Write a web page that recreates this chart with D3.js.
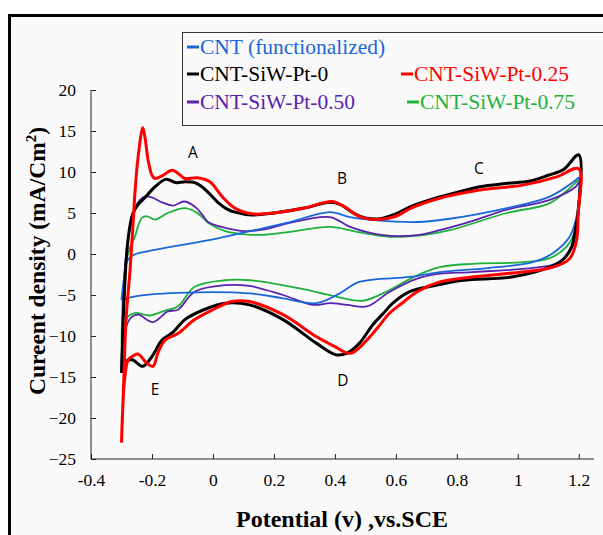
<!DOCTYPE html>
<html>
<head>
<meta charset="utf-8">
<script src="https://cdn.jsdelivr.net/npm/d3@7"></script>
<style>
  body { margin: 0; background: #fff; }
  svg { display: block; }
</style>
</head>
<body>
<script>
// tick values
var xTicks = [-0.4, -0.2, 0, 0.2, 0.4, 0.6, 0.8, 1, 1.2];
var yTicks = [-25, -20, -15, -10, -5, 0, 5, 10, 15, 20];

// series names
var names = ["CNT (functionalized)", "CNT-SiW-Pt-0", "CNT-SiW-Pt-0.25", "CNT-SiW-Pt-0.50", "CNT-SiW-Pt-0.75"];

// [potential V, current mA/cm2], anodic sweep then cathodic sweep
var blueFwd = [[-0.3,-5.6],[-0.292,-3],[-0.282,-0.9],[-0.265,-0.2],[-0.233,0.2],[-0.148,0.8],[0.016,1.9],[0.17,3.2],[0.252,3.9],[0.384,5.1],[0.45,4.5],[0.537,4.1],[0.67,3.9],[0.777,4.3],[0.964,5.6],[1.105,7.0],[1.19,9.0],[1.2,9.3]];
var blueRev = [[1.2,9.3],[1.195,5],[1.17,2.1],[1.115,0.1],[1.05,-1.0],[0.908,-1.7],[0.744,-2.2],[0.646,-2.8],[0.48,-3.4],[0.416,-4.8],[0.34,-6.0],[0.23,-5.4],[0.12,-4.8],[-0.092,-4.7],[-0.246,-5.1],[-0.3,-5.6]];

var blackFwd = [[-0.3,-14.5],[-0.292,-6],[-0.283,0],[-0.272,3.5],[-0.262,5],[-0.246,6.0],[-0.22,7.0],[-0.19,8.2],[-0.154,9.1],[-0.12,8.7],[-0.092,8.8],[-0.06,8.7],[-0.036,8.2],[-0.01,7.3],[0.016,6.3],[0.045,5.5],[0.072,5.1],[0.128,4.75],[0.2,5.0],[0.3,5.6],[0.384,6.3],[0.42,6.0],[0.46,5.0],[0.5,4.4],[0.548,4.3],[0.6,4.9],[0.65,5.8],[0.711,6.6],[0.8,7.5],[0.875,8.2],[0.96,8.6],[1.04,8.9],[1.1,9.6],[1.15,10.3],[1.2,12.1]];
var blackRev = [[1.2,12.1],[1.198,5],[1.187,2.6],[1.177,0.9],[1.148,-0.7],[1.105,-1.6],[0.98,-2.8],[0.82,-3.2],[0.72,-3.9],[0.645,-4.6],[0.59,-6],[0.56,-7.2],[0.525,-8.6],[0.48,-10.9],[0.44,-12.1],[0.405,-12.3],[0.34,-10.9],[0.23,-8.0],[0.12,-6.2],[0.04,-6.0],[-0.03,-6.8],[-0.092,-8.0],[-0.13,-9.5],[-0.167,-10.5],[-0.2,-12.5],[-0.23,-13.7],[-0.265,-12.9],[-0.29,-13.2],[-0.3,-14.5]];

var redFwd = [[-0.3,-23],[-0.293,-16],[-0.285,-8],[-0.272,-2],[-0.263,3],[-0.256,7.4],[-0.245,12],[-0.23,15.4],[-0.222,14],[-0.213,11.5],[-0.2,9.6],[-0.19,9.2],[-0.164,9.6],[-0.134,10.2],[-0.11,9.7],[-0.092,9.2],[-0.052,9.3],[-0.01,8.8],[0.03,7.0],[0.072,5.6],[0.128,4.9],[0.2,5.0],[0.3,5.6],[0.39,6.4],[0.43,5.8],[0.48,4.6],[0.54,4.2],[0.6,4.6],[0.65,5.6],[0.744,6.8],[0.875,7.8],[1.016,8.4],[1.128,9.4],[1.2,10.4]];
var redRev = [[1.2,10.4],[1.198,5],[1.193,1.7],[1.175,-0.3],[1.16,-0.9],[1.105,-1.7],[1.016,-2.2],[0.85,-2.8],[0.744,-3.4],[0.67,-4.6],[0.62,-6],[0.58,-7.2],[0.54,-9],[0.505,-10.5],[0.465,-11.9],[0.443,-12.1],[0.4,-11.3],[0.34,-10.1],[0.23,-7.4],[0.12,-5.8],[0.062,-5.8],[0,-6.8],[-0.06,-8.0],[-0.115,-9.7],[-0.157,-10.5],[-0.18,-12],[-0.197,-13.7],[-0.22,-13.2],[-0.246,-12.2],[-0.265,-12.5],[-0.278,-12.9],[-0.29,-15.4],[-0.296,-19],[-0.3,-23]];

var purpleFwd = [[-0.3,-14.5],[-0.296,-8],[-0.29,-2.3],[-0.28,1.5],[-0.265,4.1],[-0.246,6.3],[-0.223,7.0],[-0.2,6.9],[-0.167,6.3],[-0.13,5.9],[-0.095,6.4],[-0.06,5.8],[-0.035,4.8],[-0.016,3.9],[0.04,3.2],[0.105,2.8],[0.17,3.0],[0.252,3.8],[0.384,4.5],[0.45,3.3],[0.557,2.3],[0.67,2.3],[0.744,2.9],[0.85,4.0],[0.964,5.4],[1.105,6.6],[1.19,8.2],[1.2,8.7]];
var purpleRev = [[1.2,8.7],[1.197,5],[1.19,2.5],[1.18,0.9],[1.128,-1.1],[1.05,-1.7],[0.85,-2.2],[0.744,-2.4],[0.67,-3.0],[0.58,-4.6],[0.505,-6.4],[0.44,-6.2],[0.384,-6.0],[0.328,-6.2],[0.23,-5.0],[0.12,-3.9],[0.04,-3.8],[-0.06,-4.6],[-0.115,-6.8],[-0.148,-7.0],[-0.197,-8.3],[-0.246,-7.4],[-0.272,-7.9],[-0.295,-10.5],[-0.3,-14.5]];

var greenFwd = [[-0.3,-10.9],[-0.295,-5],[-0.285,-1],[-0.27,1],[-0.256,2.1],[-0.245,3.5],[-0.233,4.4],[-0.216,4.6],[-0.19,4.2],[-0.148,5.0],[-0.092,5.6],[-0.06,5.2],[-0.035,4.5],[-0.016,3.8],[0.04,2.8],[0.105,2.4],[0.17,2.35],[0.252,2.7],[0.384,3.3],[0.472,2.7],[0.58,2.1],[0.69,2.3],[0.777,2.9],[0.964,5.0],[1.105,6.2],[1.19,8.7],[1.2,9.0]];
var greenRev = [[1.2,9.0],[1.195,5],[1.185,2.5],[1.16,0.9],[1.105,-0.5],[1.016,-1.0],[0.85,-1.2],[0.744,-1.6],[0.67,-2.6],[0.557,-4.8],[0.49,-5.7],[0.393,-5.1],[0.285,-4.2],[0.12,-3.2],[0.04,-3.2],[-0.06,-4.0],[-0.115,-6.4],[-0.157,-6.9],[-0.207,-7.5],[-0.256,-7.2],[-0.282,-7.8],[-0.3,-10.9]];

var peakLabels = ["A", "B", "C", "D", "E"];
var peakPos = [[-0.066, 11.7], [0.423, 8.5], [0.872, 9.8], [0.426, -16.1], [-0.19, -17.2]];

var W = 603, H = 535;
var svg = d3.select("body").append("svg").attr("width", W).attr("height", H);

// outer frame
svg.append("rect").attr("x", 9.5).attr("y", 15.5).attr("width", 620).attr("height", 560)
  .attr("fill", "#fafafa").attr("stroke", "#000").attr("stroke-width", 3);

var x = d3.scaleLinear().domain([-0.4, 1.25]).range([91, 594]);
var y = d3.scaleLinear().domain([-25, 20]).range([459, 90]);

var xAxis = d3.axisBottom(x).tickValues(xTicks).tickSize(-5).tickPadding(15)
  .tickFormat(function(d){ return String(+d.toFixed(1)); });
var yAxis = d3.axisLeft(y).tickValues(yTicks).tickSize(-5).tickPadding(15);

var gx = svg.append("g").attr("transform", "translate(0,459)").call(xAxis);
var gy = svg.append("g").attr("transform", "translate(91,0)").call(yAxis);
gy.select(".domain").attr("d", "M0," + y(20) + "V" + y(-25));
gx.select(".domain").attr("d", "M" + x(-0.4) + ",0H" + x(1.25));
[gx, gy].forEach(function(g){
  g.attr("font-family", null).attr("font-size", null);
  g.selectAll(".domain, line").attr("stroke", "#222").attr("stroke-width", 1);
  g.selectAll("text").style("font-family", "'Liberation Serif', serif").style("font-size", "17.5px").attr("fill", "#000");
});

var line = d3.line().x(function(d){ return x(d[0]); }).y(function(d){ return y(d[1]); })
  .curve(d3.curveCatmullRom.alpha(0.5));

var series = [
  {pts: greenFwd.concat(greenRev.slice(1)), color: "#1eb23a", w: 1.8},
  {pts: purpleFwd.concat(purpleRev.slice(1)), color: "#5a23ad", w: 1.8},
  {pts: blueFwd.concat(blueRev.slice(1)), color: "#1a66d8", w: 1.8},
  {pts: blackFwd.concat(blackRev.slice(1)), color: "#000", w: 3},
  {pts: redFwd.concat(redRev.slice(1)), color: "#ff0000", w: 3}
];
svg.selectAll("path.cv").data(series).enter().append("path").attr("class", "cv")
  .attr("d", function(d){ return line(d.pts); })
  .attr("fill", "none").attr("stroke", function(d){ return d.color; })
  .attr("stroke-width", function(d){ return d.w; }).attr("stroke-linejoin", "round");

svg.selectAll("text.pk").data(peakLabels).enter().append("text").attr("class", "pk")
  .attr("x", function(d, i){ return x(peakPos[i][0]); })
  .attr("y", function(d, i){ return y(peakPos[i][1]); })
  .attr("text-anchor", "middle").style("font-family", "'Open Sans', sans-serif").style("font-size", "15.5px")
  .text(function(d){ return d; });

// legend
svg.append("rect").attr("x", 182.5).attr("y", 32.5).attr("width", 440).attr("height", 93)
  .attr("fill", "#fafafa").attr("stroke", "#333").attr("stroke-width", 1);
var legColors = ["#1a66d8", "#000", "#ff0000", "#5a23ad", "#1eb23a"];
var legPos = [[187, 46], [187, 73], [401, 73], [187, 101], [407, 101]];
var leg = svg.selectAll("g.leg").data(names).enter().append("g").attr("class", "leg")
  .attr("transform", function(d, i){ return "translate(" + legPos[i][0] + "," + legPos[i][1] + ")"; });
leg.append("line").attr("x1", 0).attr("x2", 12).attr("y1", 1).attr("y2", 1)
  .attr("stroke", function(d, i){ return legColors[i]; }).attr("stroke-width", 3);
leg.append("text").attr("x", 13).attr("y", 0).attr("dy", "0.35em")
  .style("font-family", "'Liberation Serif', serif").style("font-size", "21.5px")
  .attr("fill", function(d, i){ return legColors[i]; }).text(function(d){ return d; });

// axis titles
svg.append("text").attr("x", 342).attr("y", 527).attr("text-anchor", "middle")
  .style("font-family", "'Liberation Serif', serif").style("font-weight", "bold").style("font-size", "24px")
  .text("Potential (v) ,vs.SCE");
var yt = svg.append("text").attr("transform", "translate(45,261) rotate(-90)").attr("text-anchor", "middle")
  .style("font-family", "'Liberation Serif', serif").style("font-weight", "bold").style("font-size", "23.5px");
yt.append("tspan").text("Cureent density (mA/Cm");
yt.append("tspan").style("font-size", "15px").attr("dy", -9).text("2");
yt.append("tspan").attr("dy", 9).text(")");
</script>
</body>
</html>
